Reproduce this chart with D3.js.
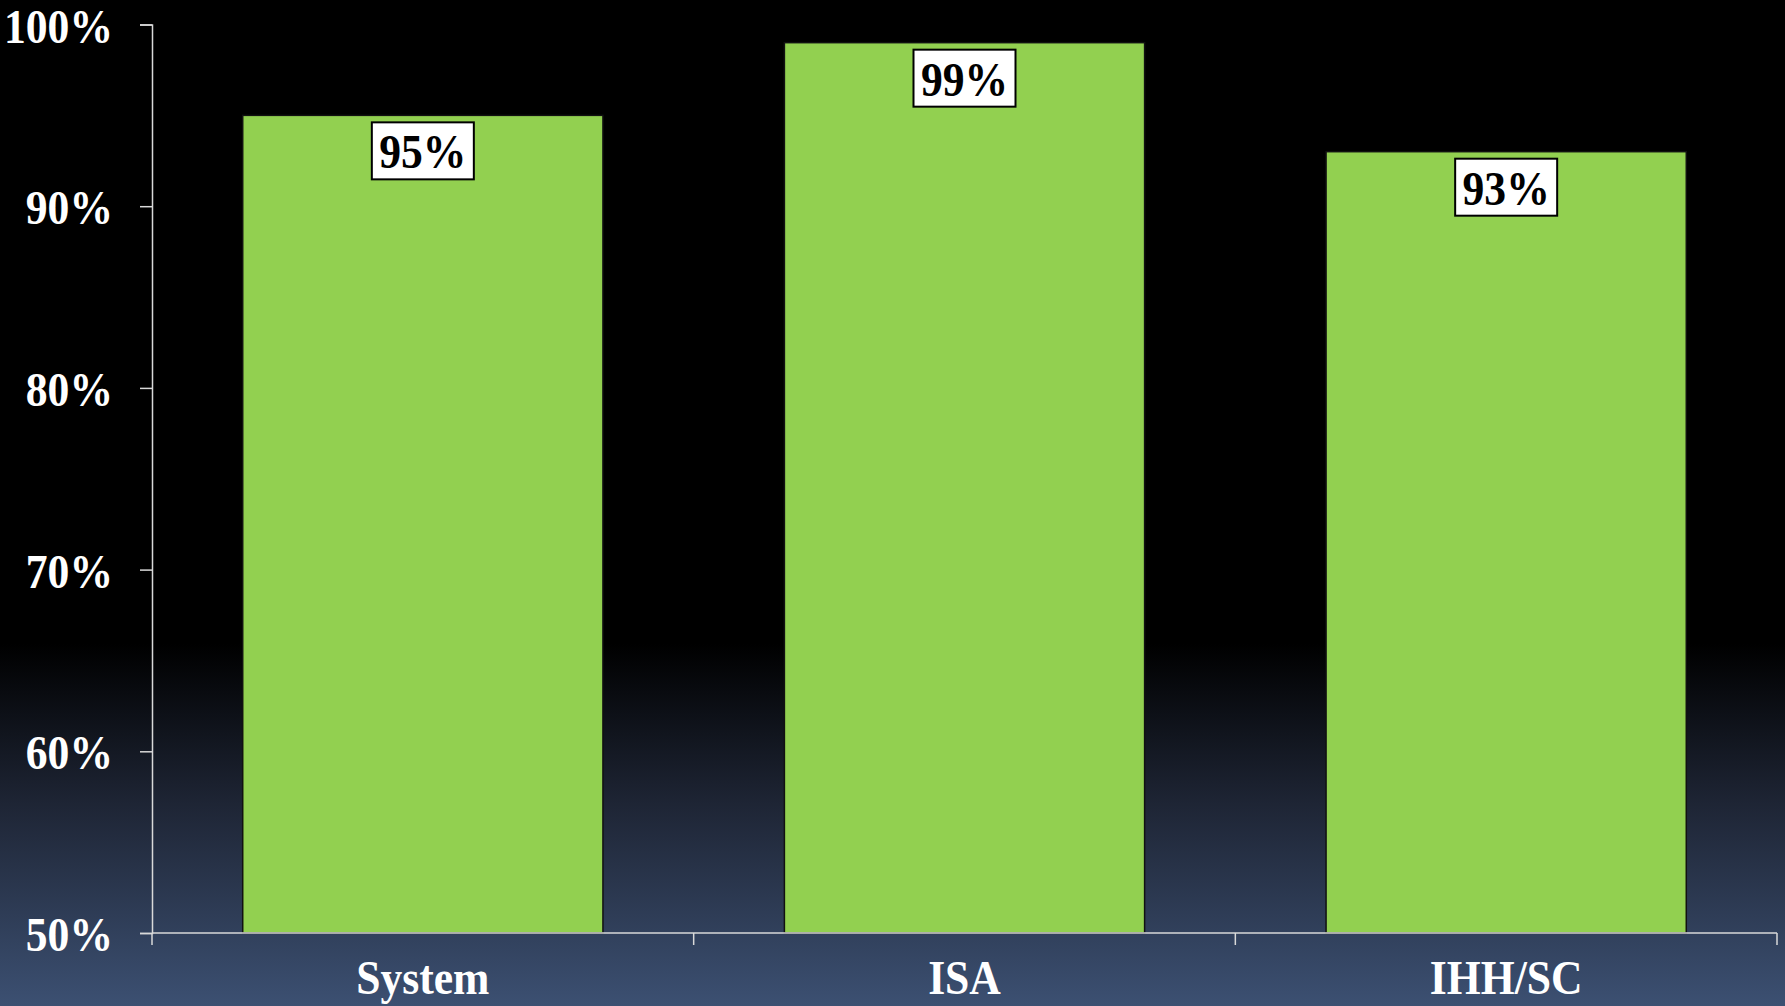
<!DOCTYPE html>
<html>
<head>
<meta charset="utf-8">
<script src="https://cdn.jsdelivr.net/npm/d3@7"></script>
<style>
  html, body { margin: 0; padding: 0; background: #000; }
  svg { display: block; }
</style>
</head>
<body>
<svg id="chart" width="1785" height="1006"></svg>
<script>
const categories = ["System", "ISA", "IHH/SC"];
const values = [95, 99, 93];
const yTicks = [50, 60, 70, 80, 90, 100];

const svg = d3.select("#chart");
const W = +svg.attr("width"), H = +svg.attr("height");
const margin = { top: 24.5, right: 8, bottom: 73, left: 152 };
const width = W - margin.left - margin.right,
      height = H - margin.top - margin.bottom;

// background gradient
const defs = svg.append("defs");
const grad = defs.append("linearGradient")
  .attr("id", "bg").attr("x1", 0).attr("y1", 0).attr("x2", 0).attr("y2", 1);
grad.append("stop").attr("offset", "0%").attr("stop-color", "#000");
grad.append("stop").attr("offset", "64%").attr("stop-color", "#000");
grad.append("stop").attr("offset", "80%").attr("stop-color", "#1e2535");
grad.append("stop").attr("offset", "100%").attr("stop-color", "#3c5072");
svg.append("rect").attr("width", W).attr("height", H).attr("fill", "url(#bg)");

const g = svg.append("g").attr("transform", `translate(${margin.left},${margin.top})`);

const x = d3.scaleBand()
  .domain(categories)
  .range([0, width])
  .paddingInner(0.335)
  .paddingOuter(0.335 / 2);

const y = d3.scaleLinear().domain([50, 100]).range([height, 0]);

const font = "'Liberation Serif', 'Times New Roman', serif";
const fontSize = "49px";
const squeeze = 0.89; // text in the original is a bit narrow and tall

function styleText(sel, color) {
  sel.attr("fill", color)
    .style("font-family", font)
    .style("font-weight", "bold")
    .style("font-size", fontSize);
}

// bars
g.selectAll("rect.bar")
  .data(values)
  .enter().append("rect")
  .attr("class", "bar")
  .attr("x", (d, i) => x(categories[i]))
  .attr("y", d => y(d))
  .attr("width", x.bandwidth())
  .attr("height", d => height - y(d))
  .attr("fill", "#92d050")
  .attr("stroke", "#111")
  .attr("stroke-width", 1.5);

// y axis
const yAxis = g.append("g")
  .call(d3.axisLeft(y).tickValues(yTicks).tickSize(12).tickPadding(27).tickFormat(d => d + "%"));
yAxis.selectAll("line, path").attr("stroke", "#d9d9d9").attr("stroke-width", 1.5);
yAxis.selectAll("text")
  .attr("x", 0)
  .attr("transform", `translate(-39,0) scale(${squeeze},1)`)
  .attr("dy", "0.36em")
  .call(styleText, "#fff");

// x axis with ticks at band boundaries
const bounds = [0].concat(categories.map(c => x(c) + x.bandwidth() + x.step() * 0.335 / 2));
const xAxis = g.append("g").attr("transform", `translate(0,${height})`);
xAxis.append("line").attr("x1", 0).attr("x2", width).attr("y1", 0).attr("y2", 0)
  .attr("stroke", "#d9d9d9").attr("stroke-width", 1.5);
xAxis.selectAll("line.tick")
  .data(bounds)
  .enter().append("line")
  .attr("class", "tick")
  .attr("x1", d => d).attr("x2", d => d)
  .attr("y1", 0).attr("y2", 12)
  .attr("stroke", "#d9d9d9").attr("stroke-width", 1.5);
xAxis.selectAll("text")
  .data(categories)
  .enter().append("text")
  .attr("transform", d => `translate(${x(d) + x.bandwidth() / 2},61) scale(${squeeze},1)`)
  .attr("text-anchor", "middle")
  .call(styleText, "#fff")
  .text(d => d);

// value labels
const boxW = 102, boxH = 57;
const labels = g.selectAll("g.lbl")
  .data(values)
  .enter().append("g")
  .attr("class", "lbl")
  .attr("transform", (d, i) => `translate(${x(categories[i]) + x.bandwidth() / 2},${y(d) + 7})`);
labels.append("rect")
  .attr("x", -boxW / 2).attr("y", 0)
  .attr("width", boxW).attr("height", boxH)
  .attr("fill", "#fff")
  .attr("stroke", "#000")
  .attr("stroke-width", 2);
labels.append("text")
  .attr("transform", `translate(0,${boxH / 2}) scale(${squeeze},1)`)
  .attr("dy", "0.36em")
  .attr("text-anchor", "middle")
  .call(styleText, "#000")
  .text(d => d + "%");
</script>
</body>
</html>
